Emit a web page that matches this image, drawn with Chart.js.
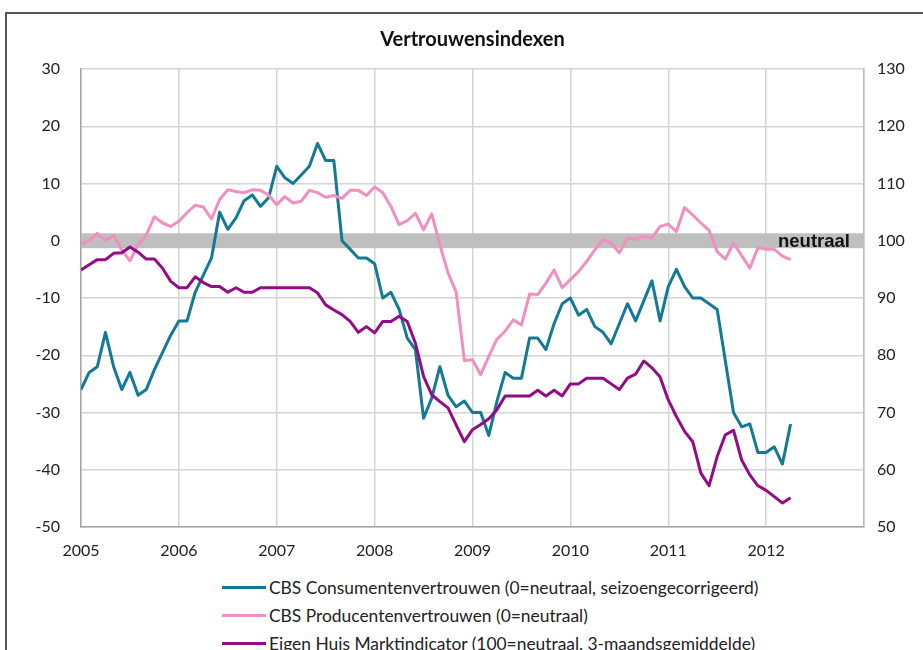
<!DOCTYPE html>
<html>
<head>
<meta charset="utf-8">
<script src="https://cdn.jsdelivr.net/npm/chart.js@4.4.1/dist/chart.umd.min.js"></script>
<style>
  html, body { margin: 0; padding: 0; background: #fff; width: 923px; height: 650px; overflow: hidden; }
  #frame { position: absolute; left: 5px; top: 12px; width: 960px; height: 700px; border: 2px solid #555; box-sizing: border-box; }
  #wrap { position: absolute; left: 0; top: 0; width: 923px; height: 570px; }
  #legend { position: absolute; left: 222px; top: 573px; font: 17.4px Lato, sans-serif; color: #222; }
  .item { display: flex; align-items: center; height: 28px; white-space: nowrap; }
  .swatch { width: 44px; height: 3px; margin-right: 3px; }
</style>
</head>
<body>
<div id="frame"></div>
<div id="wrap"><canvas id="chart" width="923" height="570"></canvas></div>
<div id="legend"></div>
<script>
// monthly series, starting January 2005
const startYear = 2005;

const consumer = [
  -26, -23, -22, -16, -22, -26, -23, -27, -26, -22.5, -19.5, -16.5,
  -14, -14, -9, -6, -3, 5, 2, 4, 7, 8, 6, 7.5,
  13, 11, 10, 11.5, 13, 17, 14, 14, 0, -1.5, -3, -3,
  -4, -10, -9, -12, -17, -19, -31, -27.5, -22, -27, -29, -28,
  -30, -30, -34, -28, -23, -24, -24, -17, -17, -19, -14.5, -11,
  -10, -13, -12, -15, -16, -18, -14.5, -11, -14, -10.5, -7, -14,
  -8, -5, -8, -10, -10, -11, -12, -21, -30, -32.5, -32, -37,
  -37, -36, -39, -32
];

const producer = [
  -0.5, 0, 1.3, 0, 0.9, -1.6, -3.5, -0.7, 1, 4.2, 3.1, 2.5,
  3.4, 4.9, 6.2, 5.9, 3.8, 7.2, 8.9, 8.6, 8.4, 8.9, 8.8, 8,
  6.3, 7.7, 6.6, 6.9, 8.8, 8.4, 7.6, 7.9, 7.4, 8.8, 8.8, 7.9,
  9.4, 8.4, 6, 2.8, 3.5, 4.8, 1.9, 4.7, -0.7, -5.6, -9, -20.9,
  -20.8, -23.4, -20.2, -17.2, -15.8, -13.8, -14.7, -9.3, -9.4, -7.4, -5.1, -8.2,
  -6.8, -5.4, -3.6, -1.6, 0.3, -0.4, -2.1, 0.5, 0.2, 0.8, 0.5, 2.5,
  2.9, 1.6, 5.8, 4.5, 3.1, 1.8, -1.9, -3.2, -0.4, -2.6, -4.8, -1.2,
  -1.5, -1.5, -2.7, -3.3
];

const housing = [
  94.9, 95.8, 96.7, 96.7, 97.8, 97.9, 98.9, 98, 96.8, 96.8, 95.2, 92.9,
  91.8, 91.8, 93.7, 92.7, 92, 92, 91, 91.8, 91, 91, 91.8, 91.8,
  91.8, 91.8, 91.8, 91.8, 91.8, 90.9, 88.8, 87.9, 87.1, 85.9, 84, 85,
  83.9, 85.9, 85.9, 86.8, 85.9, 82.1, 76.3, 73.1, 71.9, 70.8, 67.8, 64.9,
  67, 67.9, 68.9, 70.5, 72.9, 72.9, 72.9, 72.9, 73.9, 72.9, 73.9, 72.9,
  75, 75, 76, 76, 76, 75, 74, 76, 76.7, 79, 77.8, 76.2,
  72.2, 69.3, 66.7, 64.9, 59.4, 57.2, 62.3, 66.1, 66.9, 61.7, 59.1, 57.2,
  56.4, 55.3, 54.2, 55.1
];

const seriesLabels = [
  'CBS Consumentenvertrouwen (0=neutraal, seizoengecorrigeerd)',
  'CBS Producentenvertrouwen (0=neutraal)',
  'Eigen Huis Marktindicator (100=neutraal, 3-maandsgemiddelde)'
];

const leftRange = [-50, 30];
const rightRange = [50, 130];
const yearRange = [2005, 2013];
const neutralBand = [-1.3, 1.3];
const neutralText = 'neutraal';

const toPoints = arr => arr.map((v, i) => ({ x: startYear + i / 12, y: v }));

const font = { family: 'Lato', size: 16 };
const gridColor = '#d4d4d4';

// grey band around zero + label
const neutralPlugin = {
  id: 'neutral',
  beforeDatasetsDraw(chart) {
    const { ctx, chartArea, scales } = chart;
    const top = scales.y.getPixelForValue(neutralBand[1]);
    const bottom = scales.y.getPixelForValue(neutralBand[0]);
    ctx.save();
    ctx.fillStyle = '#bfbfbf';
    ctx.fillRect(chartArea.left, top, chartArea.right - chartArea.left, bottom - top);
    ctx.restore();
  },
  afterDatasetsDraw(chart) {
    const { ctx, chartArea, scales } = chart;
    ctx.save();
    ctx.font = 'bold 18.5px "Liberation Sans"';
    ctx.fillStyle = '#111';
    ctx.textAlign = 'right';
    ctx.textBaseline = 'middle';
    ctx.fillText(neutralText, chartArea.right - 14, scales.y.getPixelForValue(0) + 1);
    ctx.restore();
  }
};

const chart = new Chart(document.getElementById('chart'), {
  type: 'line',
  data: {
    datasets: [
      { label: seriesLabels[0], data: toPoints(consumer), borderColor: '#137a96', yAxisID: 'y', order: 2 },
      { label: seriesLabels[1], data: toPoints(producer), borderColor: '#f08fc0', yAxisID: 'y', order: 1 },
      { label: seriesLabels[2], data: toPoints(housing), borderColor: '#930c85', yAxisID: 'y1', order: 0 }
    ]
  },
  options: {
    responsive: false,
    animation: false,
    devicePixelRatio: 1,
    layout: { padding: 0 },
    elements: {
      point: { radius: 0 },
      line: { borderWidth: 3, tension: 0, borderJoinStyle: 'round' }
    },
    plugins: {
      legend: { display: false },
      tooltip: { enabled: false },
      title: {
        display: true,
        fullSize: false,
        text: 'Vertrouwensindexen',
        color: '#111',
        font: { family: 'Lato', size: 20, weight: 'bold' },
        padding: { top: 28, bottom: 17 }
      }
    },
    scales: {
      x: {
        type: 'linear',
        min: yearRange[0],
        max: yearRange[1],
        ticks: {
          stepSize: 1,
          padding: 14,
          color: '#222',
          font: font,
          callback: v => (v === yearRange[1] ? '' : String(v))
        },
        grid: { color: gridColor, lineWidth: 1.5, drawTicks: false },
        border: { color: '#a6a6a6', width: 1.5 },
        afterFit: s => { s.height = 43; }
      },
      y: {
        position: 'left',
        min: leftRange[0],
        max: leftRange[1],
        ticks: { stepSize: 10, padding: 21, color: '#222', font: font },
        grid: { color: gridColor, lineWidth: 1.5, drawTicks: false },
        border: { color: '#a6a6a6', width: 1.5 },
        afterFit: s => { s.width = 81; }
      },
      y1: {
        position: 'right',
        min: rightRange[0],
        max: rightRange[1],
        ticks: { stepSize: 10, padding: 13, color: '#222', font: font },
        grid: { drawOnChartArea: false, drawTicks: false },
        border: { color: '#bdbdbd', width: 1.5 },
        afterFit: s => { s.width = 59; }
      }
    }
  },
  plugins: [neutralPlugin]
});

// legend as a vertical list below the chart
const legend = document.getElementById('legend');
chart.data.datasets.forEach(ds => {
  const row = document.createElement('div');
  row.className = 'item';
  const sw = document.createElement('span');
  sw.className = 'swatch';
  sw.style.background = ds.borderColor;
  const txt = document.createElement('span');
  txt.textContent = ds.label;
  row.appendChild(sw);
  row.appendChild(txt);
  legend.appendChild(row);
});
</script>
</body>
</html>
